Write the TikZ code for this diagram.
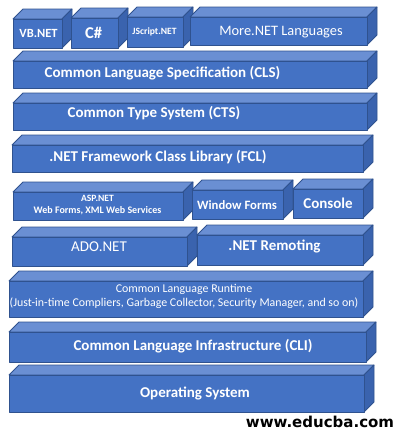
\documentclass[tikz,border=0pt]{standalone}
\usepackage{fontspec}
\setmainfont{Carlito}
\newfontfamily\wmfont{DejaVu Sans}
\definecolor{frontc}{HTML}{4472C4}
\definecolor{topc}{HTML}{6A8FD3}
\definecolor{sidec}{HTML}{3A63AE}
\definecolor{edgec}{HTML}{2F528F}
\tikzset{
  face/.style={draw=edgec, line width=0.8pt, line join=round},
  lbl/.style={text=white, font=\bfseries, inner sep=0pt, align=center},
  lblr/.style={text=white, inner sep=0pt, align=center},
}
% \blockbox{x1}{y1}{x2}{y2}: front face corners, depth 10
\newcommand\blockbox[4]{%
  \fill[face, fill=topc] (#1,#2) -- (#1+10,#2-10) -- (#3+10,#2-10) -- (#3,#2) -- cycle;
  \fill[face, fill=sidec] (#3,#2) -- (#3+10,#2-10) -- (#3+10,#4-10) -- (#3,#4) -- cycle;
  \fill[face, fill=frontc] (#1,#2) rectangle (#3,#4);
}
\begin{document}
\begin{tikzpicture}[x=1pt, y=-1pt]
\useasboundingbox (0,0) rectangle (403,434);
% top row
\blockbox{13}{19}{62}{48}
\blockbox{71}{18}{118}{48}
\blockbox{127}{17}{183}{47}
\blockbox{190}{17}{367}{45}
% layers
\blockbox{13}{61}{367}{88}
\blockbox{13}{103}{367}{130}
\blockbox{12}{145}{363}{172}
\blockbox{13}{192}{183}{220}
\blockbox{192}{190}{283}{219}
\blockbox{293}{189}{363}{218}
\blockbox{12}{237}{187}{266}
\blockbox{197}{235}{363}{265}
\blockbox{9}{281}{363}{317}
\blockbox{9}{332}{366}{362}
\blockbox{9}{375}{364}{412}
% labels
\node[lbl, font=\bfseries\fontsize{12.5}{14}\selectfont] (vb) at (38.5,33) {VB.NET};
\node[lbl, font=\bfseries\fontsize{16.5}{18}\selectfont] (cs) at (93.5,33) {C\#};
\node[lbl, font=\bfseries\fontsize{9.6}{11}\selectfont] (js) at (154.5,32) {JScript.NET};
\node[lblr, font=\fontsize{14.4}{16}\selectfont] (more) at (281,32) {More.NET Languages};
\node[lbl, font=\bfseries\fontsize{15}{17}\selectfont] (cls) at (162.5,73) {Common Language Specification (CLS)};
\node[lbl, font=\bfseries\fontsize{15}{17}\selectfont] (cts) at (154,113) {Common Type System (CTS)};
\node[lbl, font=\bfseries\fontsize{15}{17}\selectfont] (fcl) at (158,157) {.NET Framework Class Library (FCL)};
\node[lbl, font=\bfseries\fontsize{9.6}{12}\selectfont] (asp) at (97.5,205) {ASP.NET\\[-0.5pt]{\fontsize{10}{12}\selectfont Web Forms, XML Web Services}};
\node[lbl, font=\bfseries\fontsize{12.7}{14}\selectfont] (wf) at (237,205) {Window Forms};
\node[lbl, font=\bfseries\fontsize{15}{17}\selectfont] (con) at (328,203) {Console};
\node[lblr, font=\fontsize{15}{17}\selectfont] (ado) at (99,247) {ADO.NET};
\node[lbl, font=\bfseries\fontsize{15}{17}\selectfont] (rem) at (274.5,246) {.NET Remoting};
\node[lblr, font=\fontsize{11.9}{13.2}\selectfont] (clr) at (184,296.5) {Common Language Runtime\\(Just-in-time Compliers, Garbage Collector, Security Manager, and so on)};
\node[lbl, font=\bfseries\fontsize{15}{17}\selectfont] (cli) at (193,346) {Common Language Infrastructure (CLI)};
\node[lbl, font=\bfseries\fontsize{15}{17}\selectfont] (os) at (195,393) {Operating System};
\node[inner sep=0pt, font=\wmfont\bfseries\fontsize{15}{17}\selectfont] (wm) at (320,422) {www.educba.com};
\end{tikzpicture}
\end{document}
